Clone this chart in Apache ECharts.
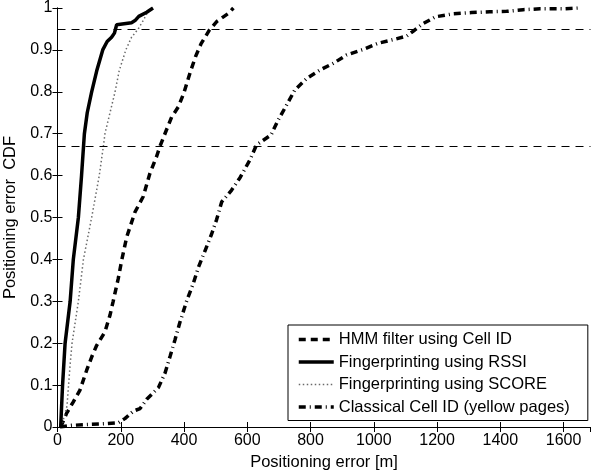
<!DOCTYPE html>
<html>
<head>
<meta charset="utf-8">
<script src="https://cdn.jsdelivr.net/npm/echarts@6/dist/echarts.min.js"></script>
<style>
  html, body { margin: 0; padding: 0; background: #fff; }
  #chart { width: 592px; height: 472px; }
</style>
</head>
<body>
<div id="chart"></div>
<script>
// Empirical CDFs of positioning error (metres) for four positioning methods.
const hmmError = [10, 29, 50, 71, 92, 108, 124, 150, 166, 176, 192, 203, 219, 245, 271, 292, 313, 324, 345, 361, 382, 399, 421, 437, 454, 480, 504, 542, 556];
const hmmCdf   = [0, 0.033, 0.06, 0.088, 0.135, 0.167, 0.195, 0.227, 0.267, 0.3, 0.354, 0.398, 0.454, 0.513, 0.55, 0.605, 0.645, 0.67, 0.71, 0.74, 0.764, 0.796, 0.85, 0.885, 0.915, 0.947, 0.968, 0.988, 1];

const rssiError = [10, 16, 24, 40, 50, 66, 76, 85, 94, 108, 124, 143, 157, 171, 180, 187, 234, 245, 257, 282, 302];
const rssiCdf   = [0, 0.1, 0.2, 0.3, 0.4, 0.5, 0.6, 0.7, 0.75, 0.8, 0.85, 0.9, 0.92, 0.93, 0.94, 0.96, 0.965, 0.97, 0.98, 0.99, 1];

const scoreError = [12, 30, 35, 40, 46, 56, 66, 82, 108, 132, 145, 150, 166, 182, 195, 216, 234, 255, 271, 285, 300];
const scoreCdf   = [0, 0.05, 0.1, 0.15, 0.2, 0.25, 0.3, 0.4, 0.5, 0.6, 0.67, 0.7, 0.75, 0.8, 0.85, 0.9, 0.93, 0.95, 0.97, 0.99, 1];

const cellIdError = [8, 45, 100, 155, 192, 213, 240, 261, 282, 319, 340, 356, 371, 387, 408, 429, 445, 466, 487, 503, 519, 550, 577, 608, 629, 675, 698, 724, 750, 788, 830, 872, 914, 966, 1014, 1064, 1104, 1125, 1154, 1195, 1250, 1309, 1367, 1420, 1472, 1525, 1594, 1645];
const cellIdCdf   = [0, 0.004, 0.006, 0.008, 0.01, 0.02, 0.038, 0.044, 0.066, 0.094, 0.129, 0.169, 0.207, 0.25, 0.3, 0.342, 0.38, 0.42, 0.46, 0.495, 0.537, 0.565, 0.595, 0.637, 0.673, 0.697, 0.733, 0.768, 0.804, 0.832, 0.852, 0.868, 0.888, 0.901, 0.916, 0.925, 0.933, 0.945, 0.962, 0.979, 0.986, 0.989, 0.991, 0.992, 0.996, 0.998, 0.998, 1];

// Reference CDF levels drawn as horizontal dashed lines
const refLevels = [0.95, 0.67];

const seriesNames = [
  'HMM filter using Cell ID',
  'Fingerprinting using RSSI',
  'Fingerprinting using SCORE',
  'Classical Cell ID (yellow pages)'
];

const xMax = 1685;
const FONT = "'Liberation Sans', Arial, Helvetica, sans-serif";

// Line appearance per method (shared by the curves and the legend keys)
const styles = [
  { color: '#000', width: 3.5, type: [7, 5] },
  { color: '#000', width: 3.5, type: 'solid' },
  { color: '#6a6a6a', width: 1.5, type: [1.5, 2.5] },
  { color: '#000', width: 3.5, type: [7, 4, 1, 4] }
];

const zip = (xs, ys) => xs.map((x, i) => [x, ys[i]]);

const chart = echarts.init(document.getElementById('chart'), null, { renderer: 'canvas' });

const axisCommon = {
  axisLine: { show: true, lineStyle: { color: '#000', width: 1 } },
  axisTick: { show: true, inside: true, length: 5, lineStyle: { color: '#000', width: 1 } },
  splitLine: { show: false }
};

const lineSeries = (i, xs, ys, extra) => Object.assign({
  name: seriesNames[i], type: 'line', symbol: 'none', xAxisIndex: 0, yAxisIndex: 0,
  itemStyle: { color: styles[i].color },
  lineStyle: Object.assign({}, styles[i]),
  data: zip(xs, ys),
  z: 3
}, extra || {});

const option = {
  animation: false,
  backgroundColor: '#fff',
  color: styles.map(s => s.color),
  textStyle: { fontFamily: FONT, color: '#000' },
  grid: { left: 57.5, right: 1.5, top: 8, bottom: 45, containLabel: false, outerBoundsMode: 'none' },
  legend: {
    show: true,
    orient: 'vertical',
    left: 288,
    top: 325,
    padding: [6, 18, 5, 9],
    itemGap: 5.5,
    itemWidth: 35,
    itemHeight: 14,
    backgroundColor: '#fff',
    borderColor: '#000',
    borderWidth: 1,
    borderRadius: 0,
    selectedMode: false,
    // keep only the line sample in each key, without a marker
    itemStyle: { opacity: 0 },
    textStyle: { fontFamily: FONT, fontSize: 16.5, color: '#000' },
    data: seriesNames.map((n, i) => ({
      name: n,
      lineStyle: { color: styles[i].color, width: styles[i].width, type: styles[i].type }
    }))
  },
  xAxis: [
    Object.assign({}, axisCommon, {
      type: 'value', position: 'bottom', min: 0, max: xMax, interval: 200,
      name: 'Positioning error [m]', nameLocation: 'middle', nameGap: 24,
      nameTextStyle: { fontFamily: FONT, fontSize: 16.5, color: '#000' },
      axisLabel: { show: true, margin: 6, fontFamily: FONT, fontSize: 16, color: '#000',
        showMaxLabel: false, formatter: v => String(v) }
    }),
    Object.assign({}, axisCommon, {
      type: 'value', position: 'top', min: 0, max: xMax, interval: 200,
      axisLabel: { show: false }
    })
  ],
  yAxis: [
    Object.assign({}, axisCommon, {
      type: 'value', position: 'left', min: 0, max: 1, interval: 0.1,
      name: 'Positioning error  CDF', nameLocation: 'middle', nameGap: 34,
      nameTextStyle: { fontFamily: FONT, fontSize: 16.5, color: '#000' },
      axisLabel: { show: true, margin: 5, fontFamily: FONT, fontSize: 16, color: '#000',
        formatter: v => String(+v.toFixed(1)) }
    }),
    Object.assign({}, axisCommon, {
      type: 'value', position: 'right', min: 0, max: 1, interval: 0.1,
      axisLabel: { show: false }
    })
  ],
  series: [
    lineSeries(0, hmmError, hmmCdf, {
      markLine: {
        silent: true, symbol: 'none', animation: false,
        label: { show: false },
        lineStyle: { color: '#000', width: 1, type: [8, 6] },
        data: refLevels.map(v => ({ yAxis: v }))
      }
    }),
    lineSeries(1, rssiError, rssiCdf, { z: 4 }),
    lineSeries(2, scoreError, scoreCdf),
    lineSeries(3, cellIdError, cellIdCdf)
  ]
};

chart.setOption(option);
</script>
</body>
</html>
